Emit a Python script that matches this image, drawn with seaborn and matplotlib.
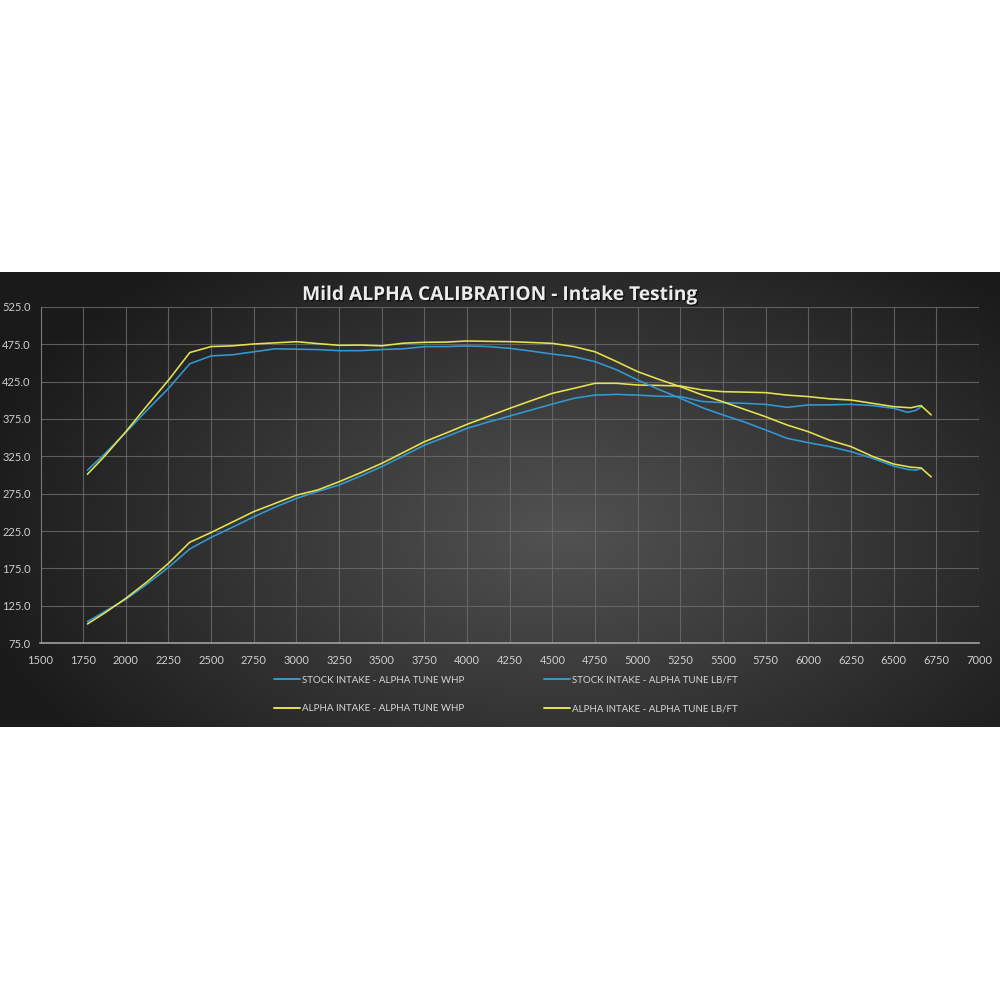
import numpy as np
import pandas as pd
import matplotlib
matplotlib.use("Agg")
import matplotlib.pyplot as plt
import matplotlib.patheffects as pe
from matplotlib.ticker import FormatStrFormatter
import seaborn as sns

# ---------------- data ----------------
rpm_alpha = [1775, 1875, 2000, 2125, 2250, 2375, 2500, 2625, 2750, 2875, 3000, 3125,
             3250, 3375, 3500, 3625, 3750, 3875, 4000, 4125, 4250, 4375, 4500, 4625,
             4750, 4875, 5000, 5125, 5250, 5375, 5500, 5625, 5750, 5875, 6000, 6125,
             6250, 6375, 6500, 6600, 6660, 6720]
rpm_stock = [1775, 1875, 2000, 2125, 2250, 2375, 2500, 2625, 2750, 2875, 3000, 3125,
             3250, 3375, 3500, 3625, 3750, 3875, 4000, 4125, 4250, 4375, 4500, 4625,
             4750, 4875, 5000, 5125, 5250, 5375, 5500, 5625, 5750, 5875, 6000, 6125,
             6250, 6375, 6500, 6580, 6630, 6665]

alpha_tq = [301, 325, 358, 393, 427, 464, 472, 473, 475.5, 477, 478.5, 476,
            473.7, 474, 473, 476.5, 477.7, 478, 479.5, 479, 478.6, 477.5, 476.3, 472,
            465, 452, 438.4, 428, 418.3, 407.5, 398, 388, 378, 367, 358, 346.5,
            338, 325, 314.7, 310.5, 309.5, 297.5]
stock_tq = [306.5, 328, 357, 387, 416, 449, 459.5, 461, 465, 469, 468.5, 468,
            466.5, 466.5, 468, 469, 471.9, 472, 472.8, 472, 469.6, 466, 462, 458.5,
            451.8, 441, 427.2, 414.5, 402.7, 390.5, 380.4, 371, 360.3, 349.1, 343.3, 338,
            331.3, 322.5, 312, 307.6, 306.5, 309]
alpha_hp = [100.5, 115, 134.8, 157, 181.7, 210, 223, 237, 251, 262, 273, 280,
            291, 303, 315.6, 330, 344.6, 356, 367.9, 378.5, 389.3, 399.5, 409.4, 416,
            422.8, 422.8, 420.5, 420, 419.2, 414, 411.6, 411, 410.3, 407, 405, 402,
            400.4, 396, 391.5, 390, 393, 380.5]
stock_hp = [103.6, 117, 133.5, 154, 176.3, 201, 216.5, 230, 244, 257, 268.7, 278,
            286.6, 298.5, 311.2, 325.5, 340, 351, 362.5, 371, 379, 387, 395, 402.7,
            407, 408, 407, 405.5, 405, 398.5, 396.9, 396, 394.6, 390.6, 393.8, 394,
            394.6, 393, 389.3, 384, 386.5, 392]

x_ticks = [1500, 1750, 2000, 2250, 2500, 2750, 3000, 3250, 3500, 3750, 4000, 4250,
           4500, 4750, 5000, 5250, 5500, 5750, 6000, 6250, 6500, 6750, 7000]
y_ticks = [75, 125, 175, 225, 275, 325, 375, 425, 475, 525]

labels = ["STOCK INTAKE - ALPHA TUNE WHP", "ALPHA INTAKE - ALPHA TUNE WHP",
          "STOCK INTAKE - ALPHA TUNE LB/FT", "ALPHA INTAKE - ALPHA TUNE LB/FT"]
title = "Mild ALPHA CALIBRATION - Intake Testing"

BLUE = "#3399d4"
YELLOW = "#e6e44e"

df = pd.concat([
    pd.DataFrame({"rpm": rpm_stock, "value": stock_hp, "series": labels[0]}),
    pd.DataFrame({"rpm": rpm_alpha, "value": alpha_hp, "series": labels[1]}),
    pd.DataFrame({"rpm": rpm_stock, "value": stock_tq, "series": labels[2]}),
    pd.DataFrame({"rpm": rpm_alpha, "value": alpha_tq, "series": labels[3]}),
], ignore_index=True)
palette = {labels[0]: BLUE, labels[1]: YELLOW, labels[2]: BLUE, labels[3]: YELLOW}

# ---------------- figure ----------------
sns.set_style("white")
plt.rcParams["font.family"] = ["Lato", "DejaVu Sans"]

fig = plt.figure(figsize=(10, 10), dpi=100)
fig.patch.set_facecolor("white")

# dark gradient panel
bg = fig.add_axes([0, 1 - 0.727, 1, 0.455])
bg.set_axis_off()
H, W = 455, 1000
yy, xx = np.mgrid[0:H, 0:W]
r = np.sqrt(((xx - 560) / 560.0) ** 2 + ((yy - 260) / 330.0) ** 2)
v = np.clip(82 - 52 * r, 26, 90) / 255.0
img = np.dstack([v, v, v])
bg.imshow(img, aspect="auto", extent=[0, 1, 0, 1], interpolation="bilinear")
bg.set_xlim(0, 1)
bg.set_ylim(0, 1)

ax = fig.add_axes([0.0405, 1 - 0.643, 0.9385, 0.336])
ax.patch.set_alpha(0)

sns.lineplot(data=df, x="rpm", y="value", hue="series", palette=palette,
             hue_order=labels, linewidth=1.15, ax=ax, legend=False,
             estimator=None, sort=False)

ax.set_xlim(1500, 7000)
ax.set_ylim(75, 525)
ax.set_xticks(x_ticks)
ax.set_yticks(y_ticks)
ax.yaxis.set_major_formatter(FormatStrFormatter("%.1f"))
ax.set_xlabel("")
ax.set_ylabel("")
ax.grid(True, color="#6e6e6e", linewidth=0.8, alpha=0.8)
ax.set_axisbelow(True)
for s in ["top", "right"]:
    ax.spines[s].set_visible(False)
ax.spines["left"].set_color("#7a7a7a")
ax.spines["left"].set_linewidth(0.8)
ax.spines["bottom"].set_color("#a0a0a0")
ax.spines["bottom"].set_linewidth(1.2)
ax.tick_params(axis="both", length=0, colors="#cfcfcf", labelsize=8)
ax.tick_params(axis="y", pad=7)
ax.tick_params(axis="x", pad=9)

# title
fig.text(0.5, 1 - 0.295, title, ha="center", va="center", fontsize=13.8,
         fontweight="bold", color="#ececec", family=["Open Sans", "DejaVu Sans"],
         path_effects=[pe.withSimplePatchShadow(offset=(1, -1), shadow_rgbFace="black", alpha=0.6)])

# legend
handles = [plt.Line2D([], [], color=c, linewidth=1.4) for c in [BLUE, YELLOW, BLUE, YELLOW]]
leg = fig.legend(handles, labels, ncol=2, loc="center", bbox_to_anchor=(0.506, 1 - 0.6945),
                 frameon=False, fontsize=7, labelcolor="#d8d8d8",
                 handlelength=2.7, handletextpad=0.2, columnspacing=8.2,
                 labelspacing=2.0)

fig.savefig("out.png", dpi=100, facecolor="white")
